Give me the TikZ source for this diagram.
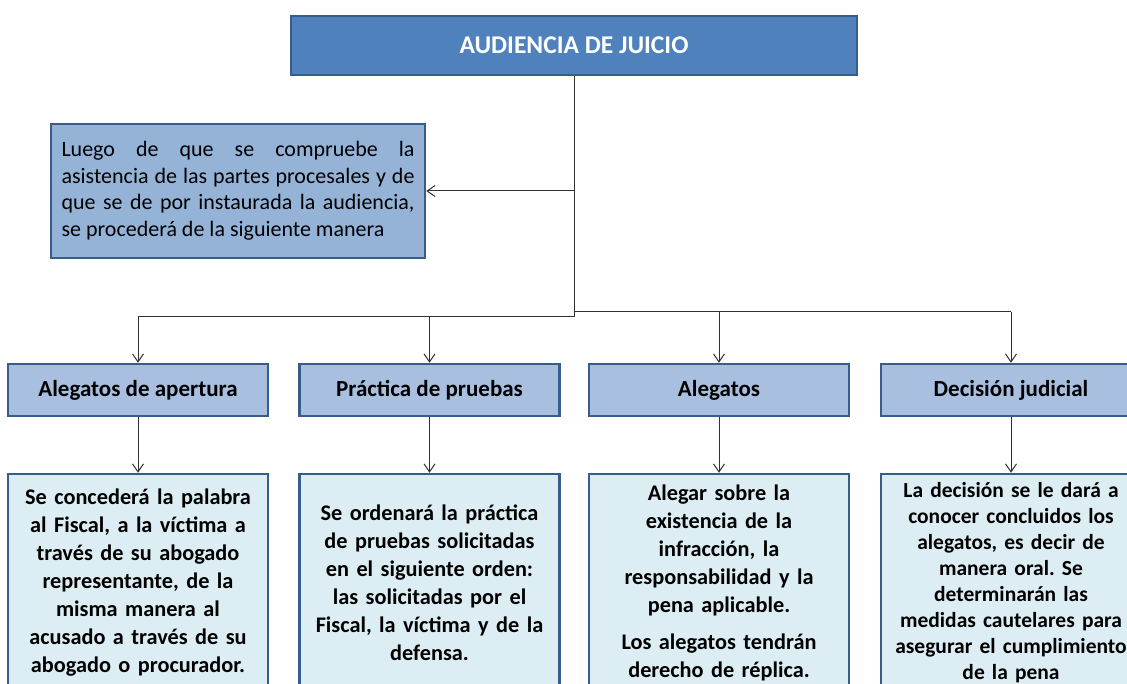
\documentclass[tikz,border=0pt]{standalone}
\usepackage{fontspec}
\setmainfont{Carlito}
\frenchspacing
\usetikzlibrary{arrows.meta}
\definecolor{topfill}{HTML}{4F81BD}
\definecolor{leftfill}{HTML}{95B3D7}
\definecolor{catfill}{HTML}{A9BFDF}
\definecolor{botfill}{HTML}{DCEEF3}
\definecolor{bord}{HTML}{385D8A}
\definecolor{conn}{HTML}{303030}
\tikzset{
  box/.style={draw=bord, line width=2.5pt, inner sep=0pt, outer sep=1.25pt},
  topbox/.style={box, fill=topfill, minimum width=566pt, minimum height=59pt,
    text=white, font=\fontsize{25.5}{30}\selectfont\bfseries},
  leftbox/.style={box, fill=leftfill, minimum width=374pt, minimum height=134pt,
    font=\fontsize{22}{26.5}\selectfont, text width=353pt, align=justify},
  catbox/.style={box, fill=catfill, minimum width=260pt, minimum height=52pt,
    font=\fontsize{23}{28}\selectfont\bfseries},
  botbox/.style={box, fill=botfill, minimum width=260pt, minimum height=218pt,
    font=\fontsize{22.3}{28}\selectfont\bfseries, text width=256pt, align=center},
  arr/.style={draw=conn, line width=1pt, -{Straight Barb[length=8pt,width=11pt]}},
  ln/.style={draw=conn, line width=1pt}
}
\begin{document}
\begin{tikzpicture}[x=1pt,y=-1pt]
\useasboundingbox (0,0) rectangle (1127,684);
\clip (0,0) rectangle (1127,684);
\node[topbox] (top) at (574,45.5) {AUDIENCIA DE JUICIO};
\node[leftbox] (left) at (238,191) {Luego de que se compruebe la\linebreak asistencia de las partes procesales y de\linebreak que se de por instaurada la audiencia,\linebreak se procederá de la siguiente manera};
\node[catbox] (c1) at (138,390) {Alegatos de apertura};
\node[catbox] (c2) at (429.5,390) {Práctica de pruebas};
\node[catbox] (c3) at (719,390) {Alegatos};
\node[catbox] (c4) at (1011,390) {Decisión judicial};
\node[botbox] (b1) at (138,583) {Se concederá la palabra\\al Fiscal, a la víctima a\\través de su abogado\\representante, de la\\misma manera al\\acusado a través de su\\abogado o procurador.};
\node[botbox] (b2) at (429.5,583) {Se ordenará la práctica\\de pruebas solicitadas\\en el siguiente orden:\\las solicitadas por el\\Fiscal, la víctima y de la\\defensa.};
\node[botbox] (b3) at (719,583) {Alegar sobre la\\existencia de la\\infracción, la\\responsabilidad y la\\pena aplicable.\\[9pt]Los alegatos tendrán\\derecho de réplica.};
\node[botbox, font=\fontsize{21.5}{26}\selectfont\bfseries] (b4) at (1011,583) {La decisión se le dará a\\conocer concluidos los\\alegatos, es decir de\\manera oral. Se\\determinarán las\\medidas cautelares para\\asegurar el cumplimiento\\de la pena};
\coordinate (hubL) at (574,317);
\coordinate (hubR) at (574,312);
\draw[ln] (top.south) -- (hubL);
\draw[arr] (top.south |- left.east) -- (left.east);
\draw[ln] (hubL) -- (hubL -| c1.north);
\draw[arr] (hubL -| c1.north) -- (c1.north);
\draw[arr] (hubL -| c2.north) -- (c2.north);
\draw[ln] (hubR) -- (hubR -| c4.north);
\draw[arr] (hubR -| c3.north) -- (c3.north);
\draw[arr] (hubR -| c4.north) -- (c4.north);
\draw[arr] (c1.south) -- (b1.north);
\draw[arr] (c2.south) -- (b2.north);
\draw[arr] (c3.south) -- (b3.north);
\draw[arr] (c4.south) -- (b4.north);
\end{tikzpicture}
\end{document}
